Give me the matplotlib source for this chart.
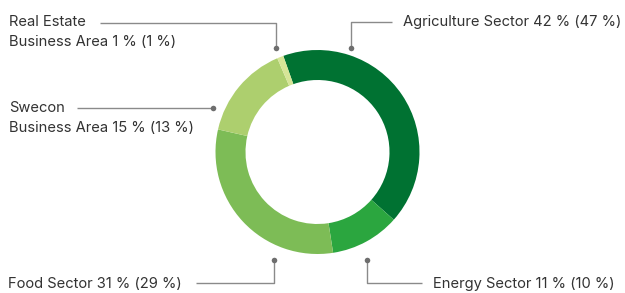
import matplotlib
matplotlib.use("Agg")
import matplotlib.pyplot as plt

# share of net sales, current year (previous year in brackets)
sectors = ["Agriculture Sector", "Energy Sector", "Food Sector",
           "Swecon\nBusiness Area", "Real Estate\nBusiness Area"]
shares = [42, 11, 31, 15, 1]
prev_shares = [47, 10, 29, 13, 1]
colors = ["#007232", "#2ba63f", "#7dbc56", "#adcf6e", "#d6e597"]

W, H = 625, 293
LINE = "#8a8a8a"
TXT = "#333333"

fig = plt.figure(figsize=(W / 100, H / 100), dpi=100)
ax = fig.add_axes([0, 0, 1, 1])


def Y(y):
    # pixel rows from top -> data y
    return H - y


ax.pie(shares, colors=colors, startangle=109.6, counterclock=False,
       center=(317.5, Y(152)), radius=102, frame=True,
       wedgeprops=dict(width=30, linewidth=0))
ax.set_xlim(0, W)
ax.set_ylim(0, H)
ax.axis("off")

labels = ["%s %d %% (%d %%)" % (s, a, b) for s, a, b in zip(sectors, shares, prev_shares)]

# leader lines: list of pixel points ending at the dot
leaders = [
    [(392, 22), (351, 22), (351, 48)],      # agriculture
    [(422, 283), (367, 283), (367, 260)],   # energy
    [(196, 283), (274, 283), (274, 260)],   # food
    [(77, 108), (213, 108)],                # swecon
    [(100, 23), (276, 23), (276, 48)],      # real estate
]
for pts in leaders:
    xs = [p[0] for p in pts]
    ys = [Y(p[1]) for p in pts]
    ax.plot(xs, ys, color=LINE, lw=1.0, solid_capstyle="butt")
    ax.plot(xs[-1], ys[-1], "o", color="#6e6e6e", ms=4, mec="none")

fs = 10.6
fam = "Inter"
# (x, y of first line) per label, in pixels
pos = [(403, 22), (433, 284), (8, 284), (9, 108), (9, 22)]
for (x, y), lab in zip(pos, labels):
    for i, line in enumerate(lab.split("\n")):
        ax.text(x, Y(y + 20 * i), line, fontsize=fs, color=TXT, family=fam,
                va="center", ha="left")

fig.savefig("out.png", dpi=100)
